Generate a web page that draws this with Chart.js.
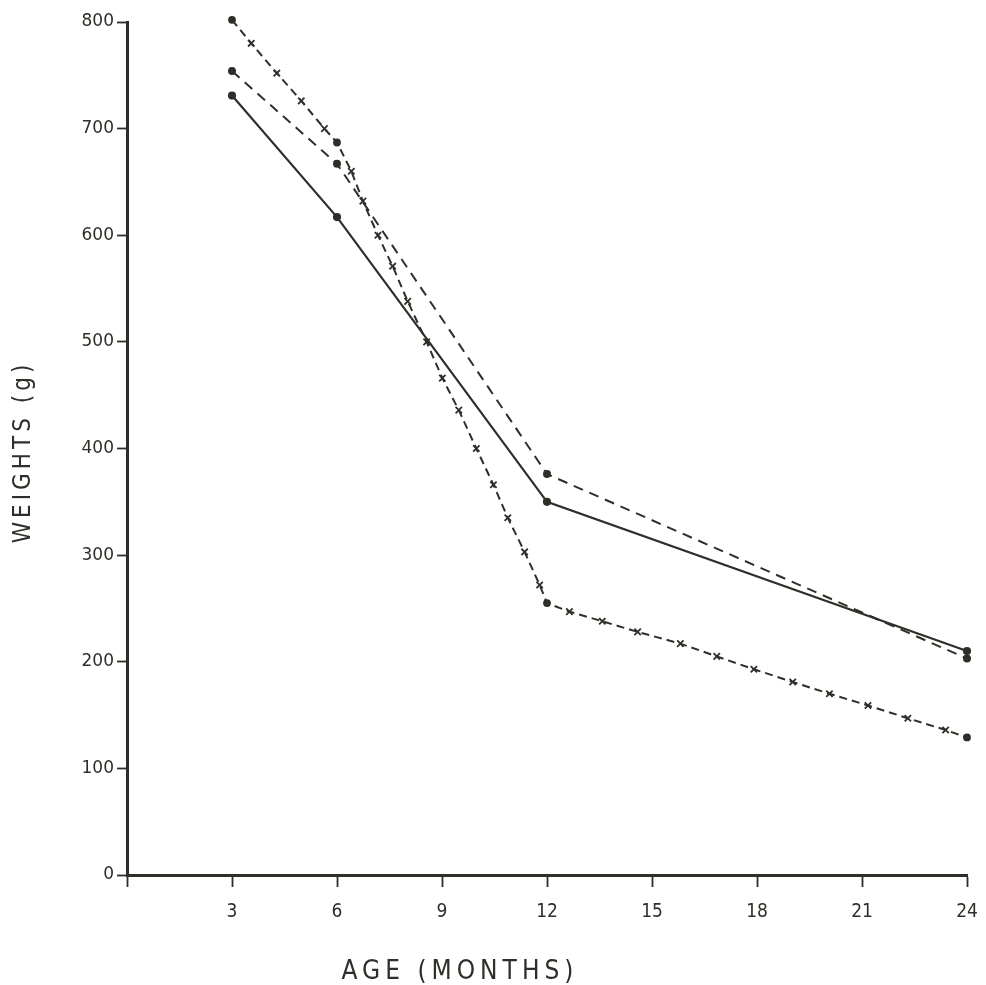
<!DOCTYPE html>
<html>
<head>
<meta charset="utf-8">
<script src="https://cdn.jsdelivr.net/npm/chart.js@4.4.1/dist/chart.umd.min.js"></script>
<style>
  html, body { margin: 0; padding: 0; background: #ffffff; }
  canvas { display: block; }
</style>
</head>
<body>
<canvas id="chart" width="986" height="985"></canvas>
<script>
// values
const months = [3, 6, 12, 24];
const solidWeights = [731, 617, 350, 210];
const dashedWeights = [754, 667, 376, 203];

// the crossed dashed line, main dots plus the small x marks along it
const crossMonths = [3, 3.55, 4.28, 4.98, 5.64, 6, 6.41, 6.74, 7.17, 7.59, 8.02, 8.56, 9.01, 9.48, 9.98,
  10.47, 10.88, 11.36, 11.79, 12, 12.64, 13.58, 14.59, 15.81, 16.85, 17.91, 19.02, 20.07, 21.17, 22.31, 23.39, 24];
const crossWeights = [802, 780, 752, 726, 700, 687, 660, 632, 600, 571, 538, 500, 466, 436, 400,
  366, 335, 303, 272, 255, 247, 238, 228, 217, 205, 193, 181, 170, 159, 147, 136, 129];

const xTicks = [0, 3, 6, 9, 12, 15, 18, 21, 24];
const yTicks = [0, 100, 200, 300, 400, 500, 600, 700, 800];

const xTitle = 'AGE (MONTHS)';
const yTitle = 'WEIGHTS (g)';

const ink = '#2f2f29';

const toPoints = (xs, ys) => xs.map((x, i) => ({ x: x, y: ys[i] }));

const crossStyles = crossMonths.map(m => months.includes(m) ? 'circle' : 'crossRot');
const crossRadius = crossMonths.map(m => months.includes(m) ? 3 : 4.5);

const axisTitles = {
  id: 'axisTitles',
  afterDraw(chart) {
    const ctx = chart.ctx;
    ctx.save();
    ctx.fillStyle = ink;
    ctx.textAlign = 'center';
    ctx.textBaseline = 'middle';
    ctx.font = '26px "DejaVu Sans Condensed", "DejaVu Sans", sans-serif';
    ctx.letterSpacing = '5px';
    ctx.fillText(xTitle, 460, 972);
    ctx.font = '24px "DejaVu Sans Condensed", "DejaVu Sans", sans-serif';
    ctx.letterSpacing = '4px';
    ctx.translate(24, 452);
    ctx.rotate(-Math.PI / 2);
    ctx.fillText(yTitle, 0, 0);
    ctx.restore();
  }
};

new Chart(document.getElementById('chart'), {
  type: 'line',
  data: {
    datasets: [
      {
        label: 'solid',
        data: toPoints(months, solidWeights),
        borderColor: ink,
        backgroundColor: ink,
        borderWidth: 2.2,
        pointRadius: 3,
        pointStyle: 'circle',
        tension: 0,
        clip: false
      },
      {
        label: 'dashed',
        data: toPoints(months, dashedWeights),
        borderColor: ink,
        backgroundColor: ink,
        borderWidth: 2,
        borderDash: [10, 7],
        pointRadius: 3,
        pointStyle: 'circle',
        tension: 0,
        clip: false
      },
      {
        label: 'crossed',
        data: toPoints(crossMonths, crossWeights),
        borderColor: ink,
        backgroundColor: ink,
        borderWidth: 2,
        borderDash: [8, 5],
        pointRadius: crossRadius,
        pointStyle: crossStyles,
        pointBorderWidth: 1.8,
        tension: 0,
        clip: false
      }
    ]
  },
  options: {
    responsive: false,
    animation: false,
    devicePixelRatio: 1,
    layout: { padding: { top: 22, right: 19, left: 0, bottom: 0 } },
    plugins: {
      legend: { display: false },
      tooltip: { enabled: false }
    },
    scales: {
      x: {
        type: 'linear',
        min: 0,
        max: 24,
        afterBuildTicks: s => { s.ticks = xTicks.map(v => ({ value: v })); },
        afterFit: s => { s.height = 110; s.paddingLeft = 0; s.paddingRight = 0; },
        ticks: {
          color: ink,
          padding: 14,
          maxRotation: 0,
          font: { family: '"Liberation Sans Narrow", "DejaVu Sans Condensed", sans-serif', size: 19 },
          callback: v => v === 0 ? '' : v
        },
        grid: { drawOnChartArea: false, drawTicks: true, tickLength: 12, tickColor: ink, tickWidth: 1.8 },
        border: { display: true, color: ink, width: 3 }
      },
      y: {
        min: 0,
        max: 800,
        afterBuildTicks: s => { s.ticks = yTicks.map(v => ({ value: v })); },
        afterFit: s => { s.width = 127; s.paddingTop = 0; s.paddingBottom = 0; },
        ticks: {
          color: ink,
          padding: 3,
          font: { family: '"DejaVu Sans", sans-serif', size: 17 }
        },
        grid: { drawOnChartArea: false, drawTicks: true, tickLength: 10, tickColor: ink, tickWidth: 1.8 },
        border: { display: true, color: ink, width: 3 }
      }
    }
  },
  plugins: [axisTitles]
});
</script>
</body>
</html>
